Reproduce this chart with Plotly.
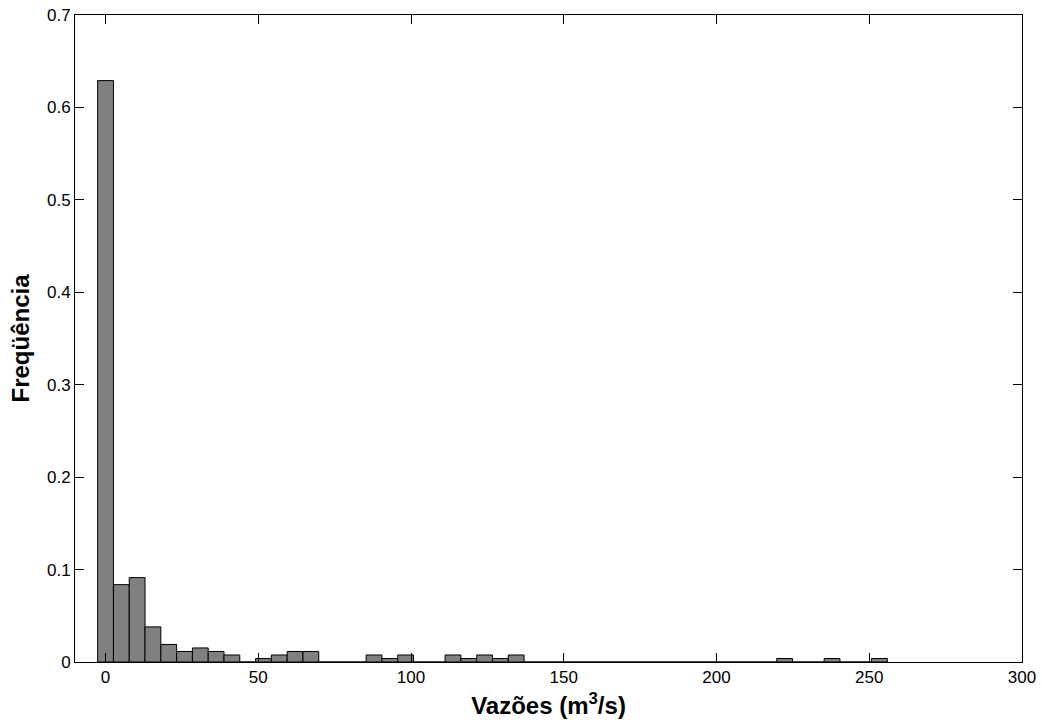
import plotly.graph_objects as go

bin_width = 5.17
bin_index = list(range(50))
bin_centers = [i * bin_width for i in bin_index]
frequencies = [
    0.629, 0.0837, 0.0913, 0.0380, 0.0190, 0.0114, 0.0152, 0.0114, 0.0076, 0.0,
    0.0038, 0.0076, 0.0114, 0.0114, 0.0, 0.0, 0.0, 0.0076, 0.0038, 0.0076,
    0.0, 0.0, 0.0076, 0.0038, 0.0076, 0.0038, 0.0076, 0.0, 0.0, 0.0,
    0.0, 0.0, 0.0, 0.0, 0.0, 0.0, 0.0, 0.0, 0.0, 0.0,
    0.0, 0.0, 0.0, 0.0038, 0.0, 0.0, 0.0038, 0.0, 0.0, 0.0038,
]
x_ticks = [0, 50, 100, 150, 200, 250, 300]
y_ticks = [0, 0.1, 0.2, 0.3, 0.4, 0.5, 0.6, 0.7]
y_tick_labels = ["0", "0.1", "0.2", "0.3", "0.4", "0.5", "0.6", "0.7"]

font_family = "Liberation Sans, Arial, sans-serif"

fig = go.Figure(
    go.Bar(
        x=bin_centers,
        y=frequencies,
        width=bin_width,
        marker=dict(color="#808080", line=dict(color="black", width=1)),
        hoverinfo="x+y",
    )
)

axis_common = dict(
    showline=True,
    linecolor="black",
    linewidth=1,
    mirror="allticks",
    ticks="inside",
    ticklen=9,
    tickcolor="black",
    tickwidth=1,
    showgrid=False,
    zeroline=False,
    ticklabeloverflow="allow",
    tickfont=dict(family=font_family, size=17, color="black"),
)

fig.update_xaxes(
    range=[-10, 300],
    tickvals=x_ticks,
    title=dict(
        text="Vazões (m<sup>3</sup>/s)",
        font=dict(family=font_family, size=24, color="black", weight="bold"),
        standoff=10,
    ),
    automargin=False,
    **axis_common,
)
fig.update_yaxes(
    range=[0, 0.7],
    tickvals=y_ticks,
    ticktext=y_tick_labels,
    title=dict(
        text="Freqüência",
        font=dict(family=font_family, size=24, color="black", weight="bold"),
        standoff=10,
    ),
    automargin=False,
    **axis_common,
)

fig.update_layout(
    width=1042,
    height=726,
    margin=dict(l=75, r=20, t=15, b=64),
    plot_bgcolor="white",
    paper_bgcolor="white",
    showlegend=False,
    font=dict(family=font_family, color="black"),
)

fig.write_html(
    "out.html",
    config={"displayModeBar": False},
    post_script="document.body.style.margin='0';document.body.style.overflow='hidden';",
)
